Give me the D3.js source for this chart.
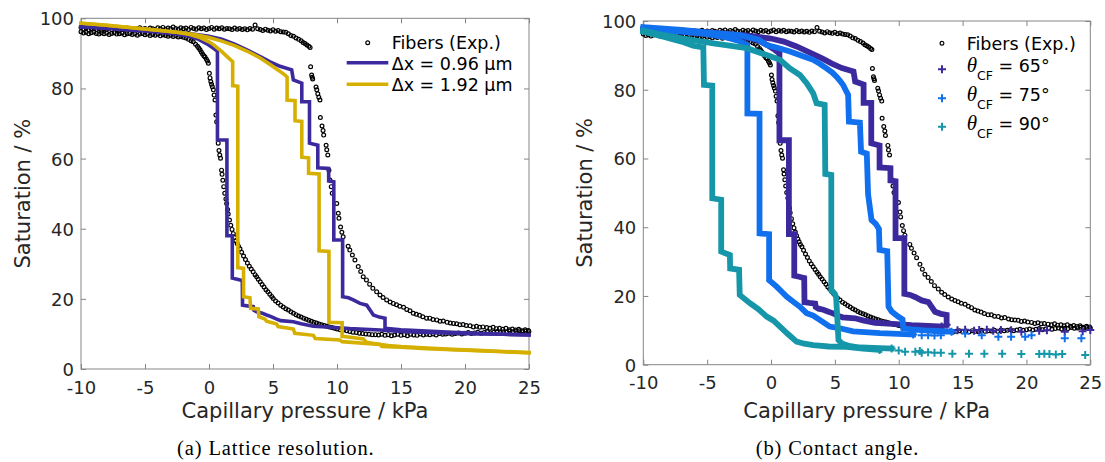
<!DOCTYPE html>
<html><head><meta charset="utf-8">
<script src="https://cdn.jsdelivr.net/npm/d3@7"></script>
<style>body{margin:0;background:#fff;} svg{display:block;font-family:"DejaVu Sans",sans-serif;}</style>
</head><body><svg id="c" width="1105" height="462"></svg>
<script>
const xTicks=[-10,-5,0,5,10,15,20,25];
const yTicks=[0,20,40,60,80,100];
const xLabel="Capillary pressure / kPa";
const yLabel="Saturation / %";
const captions=["(a) Lattice resolution.","(b) Contact angle."];
const legendA=["Fibers (Exp.)","\u0394x = 0.96 \u00b5m","\u0394x = 1.92 \u00b5m"];
const legendB=["Fibers (Exp.)","65\u00b0","75\u00b0","90\u00b0"];

// Experimental data (pressure kPa, saturation %)
const expDrain=[[-10,97.4],[-9.8,96.9],[-9.6,97.2],[-9.4,96.7],[-9.2,97.0],[-9,97.3],[-8.8,96.8],[-8.6,97.1],[-8.4,96.6],[-8.2,97.0],
[-8,96.9],[-7.8,97.2],[-7.6,96.7],[-7.4,97.1],[-7.2,96.8],[-7,96.5],[-6.8,97.0],[-6.6,96.8],[-6.4,97.2],[-6.2,96.9],
[-6,97.1],[-5.8,96.7],[-5.6,97.0],[-5.4,97.3],[-5.2,96.9],[-5,97.1],[-4.8,96.8],[-4.6,97.2],[-4.4,97.0],[-4.2,96.7],
[-4,97.3],[-3.8,97.0],[-3.6,97.4],[-3.4,96.9],[-3.2,97.2],[-3,97.0],[-2.8,97.5],[-2.6,97.1],[-2.4,96.9],[-2.2,97.3],
[-2,97.0],[-1.8,97.2],[-1.6,96.8],[-1.4,97.4],[-1.2,97.1],[-1,96.9],[-0.8,97.3],[-0.6,97.0],[-0.4,97.2],[-0.2,96.8],
[0,97.1],[0.2,97.4],[0.4,96.9],[0.6,97.2],[0.8,97.0],[1,97.3],[1.2,96.9],[1.4,97.1],[1.6,97.0],[1.8,96.8],
[2,97.2],[2.2,96.9],[2.4,97.1],[2.6,96.8],[2.8,97.0],[3,96.7],[3.2,97.1],[3.4,96.9],[3.6,98.1],[3.8,97.0],
[4,96.8],[4.2,96.5],[4.4,96.9],[4.6,96.6],[4.8,96.4],[5,96.7],[5.2,96.3],[5.4,96.5],[5.6,96.2],[5.8,96.1],
[6,96.0],[6.2,95.6],[6.4,95.1],[6.6,94.9],[6.8,94.4],[7,94.0],[7.2,93.6],[7.35,93.1],[7.5,92.8],[7.65,92.4],[7.8,92.0],[7.9,91.7],
[7.94,86.2],[8.02,83.8],[8.06,83.2],[8.1,82.7],[8.36,80.4],[8.42,79.6],[8.5,78.5],[8.58,77.5],[8.67,76.7],[8.7,71.7],[8.83,69.3],[8.91,68.0],[8.96,66.7],
[9.15,63.8],[9.2,62.5],[9.28,61.0],[9.37,56.7],[9.45,53.9],[9.55,52.0],[9.63,50.1],[9.98,47.2],[10.1,44.4],[10.15,43.0],[10.28,40.5],[10.38,39.0],[10.48,37.7],
[10.87,35.0],[11.0,33.9],[11.2,32.5],[11.4,31.1],[11.66,29.2],[11.85,27.8],[12.05,26.3],[12.3,25.4],[12.55,24.2],[12.8,23.0],[13.1,22.0],[13.36,21.1],[13.6,20.4],[13.88,19.7],
[14.15,19.1],[14.4,18.7],[14.65,18.3],[14.9,17.9],[15.2,17.6],[15.45,17.0],[15.7,16.6],[15.96,15.9],[16.2,15.6],[16.45,15.3],[16.7,14.9],[17.0,14.5],[17.25,14.5],[17.5,14.1],
[17.8,14.0],[18.05,13.6],[18.3,13.7],[18.6,13.3],[18.85,13.1],[19.1,13.0],[19.35,12.9],[19.6,12.6],[19.85,12.7],[20.1,12.4],[20.4,12.3],[20.65,12.0],[20.9,12.2],[21.15,11.9],
[21.4,12.0],[21.7,11.8],[21.95,11.6],[22.2,11.9],[22.45,11.5],[22.7,11.6],[22.95,11.3],[23.2,11.6],[23.45,11.2],[23.7,11.4],[23.95,11.1],[24.2,11.3],[24.45,10.9],[24.7,11.2],[24.95,11.0]];

const expImb=[[-10,96.2],[-9.8,95.8],[-9.6,96.0],[-9.4,95.6],[-9.2,95.9],[-9,96.1],[-8.8,95.7],[-8.6,95.5],[-8.4,95.9],[-8.2,95.6],
[-8,95.8],[-7.8,95.4],[-7.6,95.7],[-7.4,95.9],[-7.2,95.5],[-7,95.6],[-6.8,95.8],[-6.6,95.3],[-6.4,95.6],[-6.2,95.7],
[-6,95.4],[-5.8,95.6],[-5.6,95.2],[-5.4,95.5],[-5.2,95.7],[-5,95.3],[-4.8,95.5],[-4.6,95.1],[-4.4,95.4],[-4.2,95.2],
[-4,95.5],[-3.8,95.0],[-3.6,95.3],[-3.4,95.1],[-3.2,94.9],[-3,95.2],[-2.8,94.8],[-2.6,95.0],[-2.4,94.7],[-2.2,94.8],
[-2.0,94.6],[-1.8,94.4],[-1.6,94.0],[-1.4,93.6],[-1.23,93.3],[-1.05,92.6],[-0.9,92.0],[-0.8,91.5],[-0.7,91.0],[-0.6,90.4],[-0.5,89.8],[-0.4,89.3],[-0.31,89.0],[-0.2,88.3],[-0.12,87.8],[-0.05,87.2],
[0.03,84.3],[0.08,83.0],[0.14,82.0],[0.2,81.2],[0.26,80.5],[0.34,79.6],[0.4,78.1],[0.47,76.7],[0.54,72.4],[0.6,70.5],[0.72,64.4],[0.78,62.3],[0.84,61.0],[0.9,60.1],[0.98,56.7],[1.02,55.5],[1.08,53.8],[1.15,52.0],[1.23,50.1],[1.32,48.5],[1.38,47.2],[1.45,45.5],[1.5,44.2],[1.6,42.5],[1.7,41.0],[1.8,39.8],[1.9,38.6],[2.0,37.5],[2.1,36.6],[2.2,35.8],[2.3,35.0],[2.42,34.3],[2.55,33.3],[2.7,32.2],[2.85,31.2],[3.0,30.2],[3.15,29.3],[3.3,28.5],[3.45,27.7],[3.6,26.9],[3.72,26.3],[3.85,25.6],[4.0,24.9],[4.15,24.1],[4.3,23.4],[4.45,22.6],[4.6,22.0],[4.75,21.3],[4.9,20.7],[5.02,20.1],[5.2,19.4],[5.4,18.8],[5.6,18.2],[5.8,17.7],[6.0,17.2],[6.2,16.8],[6.4,16.3],[6.6,15.9],[6.8,15.5],[7.0,15.1],[7.2,14.8],[7.4,14.5],[7.6,14.2],[7.8,13.9],[8.0,13.6],[8.2,13.3],[8.4,13.1],[8.6,12.8],[8.8,12.6],[9.0,12.4],[9.2,12.2],[9.4,12.0],[9.6,11.8],[9.8,11.6],[10.0,11.4],[10.25,11.2],[10.5,11.1],[10.76,10.9],[11.0,10.7],[11.25,10.5],[11.5,10.4],[11.75,10.2],[12.0,10.1],[12.25,10.0],[12.5,9.9],[12.75,9.8],[13.0,9.8],[13.25,9.7],[13.5,9.9],[13.75,9.6],[14.0,9.8],[14.25,9.5],[14.5,9.7],[14.75,9.9],[15.0,9.6],[15.25,9.8],[15.5,9.5],[15.75,9.9],[16.0,9.7],[16.25,9.6],[16.5,10.0],[16.75,9.7],[17.0,9.9],[17.25,9.8],[17.5,10.0],[17.75,9.7],[18.0,10.1],[18.25,9.9],[18.5,10.0],[18.75,10.2],[19.0,9.9],[19.25,10.1],[19.5,10.3],[19.75,10.0],[20.0,10.2],[20.25,10.4],[20.5,10.1],[20.75,10.3],[21.0,10.5],[21.25,10.2],[21.5,10.4],[21.75,10.6],[22.0,10.3],[22.25,10.5],[22.5,10.7],[22.75,10.4],[23.0,10.6],[23.25,10.5],[23.5,10.8],[23.75,10.6],[24.0,10.7],[24.25,10.9],[24.5,10.6],[24.75,10.8],[25.0,10.7]];

// Simulation, dx = 0.96 um (also theta_CF = 65 deg)
const dx096Drain=[[-10,97.6],[-8,97.4],[-6,97.0],[-4,96.4],[-2,95.8],[-1,95.4],[0,94.9],[1,94.0],[2,92.6],[3,90.9],[4,89.1],[4.77,87.6],[5.55,86.3],[6.46,85.3],[6.59,82.4],[7.25,81.5],[7.25,76.2],[7.85,76.2],[7.85,64.4],[8.5,63.8],[8.5,57.4],[9.35,57.2],[9.35,53.6],[9.75,53.4],[9.75,36.8],[10.44,36.8],[10.44,20.6],[10.9,20.3],[11.27,19.7],[11.8,18.7],[12.32,18.2],[12.58,16.8],[12.84,15.4],[13.3,14.8],[13.75,14.5],[13.75,11.6],[15,11.2],[17,10.8],[19,10.5],[21,10.2],[23,9.9],[25,9.7]];
const dx096Imb=[[-10,97.6],[-8,97.1],[-6,96.6],[-4,96.1],[-2.5,95.5],[-1.5,94.9],[-0.8,94.0],[-0.2,92.8],[0.3,91.6],[0.66,90.6],[0.66,65.3],[1.4,65.3],[1.4,38.0],[1.82,38.0],[1.82,25.9],[2.2,25.6],[2.6,25.2],[2.62,18.2],[3.0,18.0],[3.46,17.8],[3.5,16.8],[3.72,16.3],[4.1,16.0],[4.5,15.4],[4.8,15.0],[5.29,14.2],[5.6,13.8],[6.59,13.5],[7.2,12.9],[8.15,12.2],[9.5,11.9],[11,11.5],[13.36,11.1],[15,10.7],[17,10.4],[19,10.2],[21,10.0],[23,9.9],[25,9.7]];
// Simulation, dx = 1.92 um
const dx192Drain=[[-10,98.6],[-8,98.0],[-6,97.3],[-4,96.6],[-2,95.8],[-1,95.3],[0,94.5],[1,93.5],[2,92.2],[3,90.6],[4,88.7],[4.77,86.8],[5.5,85.0],[5.94,83.8],[6.1,83.2],[6.1,76.7],[6.72,76.5],[6.72,70.8],[7.25,70.6],[7.25,60.4],[7.78,60.2],[7.78,55.8],[8.6,55.6],[8.6,33.7],[9.37,33.5],[9.37,13.3],[10.4,13.2],[10.4,9.3],[11.2,9.0],[12.06,8.6],[12.3,7.6],[13,7.2],[14,6.7],[15,6.4],[17,6.0],[19,5.6],[21,5.3],[23,5.0],[25,4.7]];
const dx192Imb=[[-10,98.6],[-8,98.0],[-6,97.3],[-4,96.6],[-2.5,96.0],[-1.5,95.4],[-0.7,94.5],[0,93.3],[0.34,92.5],[1.0,90.5],[1.5,88.8],[1.85,87.6],[1.85,80.8],[2.25,80.6],[2.25,28.9],[2.7,28.7],[2.7,20.6],[3.2,20.3],[3.25,17.3],[3.85,17.1],[3.9,14.9],[4.38,14.2],[4.5,13.6],[5.29,12.8],[5.4,12.1],[6.59,11.4],[6.7,10.2],[8.15,9.6],[8.3,8.7],[10.23,8.3],[10.4,7.8],[13.36,7.0],[13.5,6.4],[15,6.2],[17,5.8],[19,5.5],[21,5.2],[23,4.9],[25,4.6]];

// Contact angle series (dense part drawn as band, sparse tail as markers)
const theta65Drain=dx096Drain.filter(d=>d[0]<=14.2);
const theta65Imb=dx096Imb.filter(d=>d[0]<=14.2);
const theta65Tail=[[14.6,10.0],[15.2,10.2],[15.9,9.9],[16.3,10.1],[16.9,10.2],[17.4,9.9],[18.0,10.1],[18.8,10.0],[19.6,9.6],[21.0,9.9],[21.6,10.0],[23.0,9.6],[24.4,9.7],[25.0,10.1]];
const theta75Drain=[[-10,98.2],[-7,97.4],[-5,96.7],[-2.43,95.9],[-1,94.6],[-0.34,93.0],[0.5,92.2],[1.48,91.1],[2.4,89.9],[3.3,88.7],[3.8,87.6],[4.35,86.2],[4.8,85.0],[5.13,83.8],[5.4,82.6],[5.65,81.4],[5.9,79.5],[6.04,78.5],[6.1,70.7],[6.96,70.4],[7.05,62.0],[7.5,61.4],[7.6,49.6],[7.87,42.1],[8.2,41.0],[8.45,39.5],[8.5,33.4],[9.1,33.0],[9.2,16.9],[9.44,15.5],[9.95,14.0],[10.3,13.2],[10.35,10.6],[11,10.3],[12,10.0],[13,9.8],[14.13,9.6]];
const theta75Imb=[[-10,97.6],[-7,96.9],[-5,96.2],[-3.5,95.2],[-2.5,94.2],[-1.85,93.0],[-1.85,73.1],[-0.9,73.0],[-0.9,38.2],[-0.15,38.0],[-0.15,24.6],[0.44,22.7],[0.9,21.0],[1.22,19.8],[1.74,18.3],[2.26,16.9],[2.79,15.0],[3.3,14.3],[4.08,12.4],[4.6,11.1],[5.39,10.6],[6.43,9.7],[8.52,9.2],[11.13,8.8]];
const theta75Tail=[[11.8,8.6],[12.3,8.6],[12.8,8.5],[13.3,8.6],[15.2,9.1],[16.5,8.6],[17.8,8.1],[18.8,8.1],[19.9,8.1],[20.4,8.6],[23.0,7.7],[24.3,7.7]];
const theta90Drain=[[-10,97.2],[-8.5,96.0],[-7.1,95.0],[-4.5,93.5],[-1.9,92.1],[-0.34,90.1],[0.7,88.7],[1.48,86.2],[2.26,84.3],[2.79,81.9],[3.3,79.0],[3.57,76.1],[4.2,75.6],[4.25,55.5],[4.72,55.2],[4.72,21.7],[5.0,20.6],[5.1,19.5],[5.2,13.0],[5.28,7.2],[5.55,6.2],[6.2,5.4],[7.0,5.0],[8.5,4.8],[9.44,4.7]];
const theta90Imb=[[-10,96.9],[-8.5,95.5],[-7,94.0],[-6.1,92.8],[-5.3,92.3],[-5.25,81.4],[-4.6,81.2],[-4.6,48.4],[-3.9,48.0],[-3.9,32.9],[-3.22,31.9],[-3.2,28.0],[-2.5,27.6],[-2.45,20.3],[-1.65,17.9],[-1.0,16.2],[-0.34,14.0],[0.2,12.8],[0.7,11.1],[1.3,9.0],[2.0,6.7],[2.6,6.1],[3.3,5.7],[4.5,5.3],[5.9,5.2],[7.2,4.7],[8.5,4.3]];
const theta90Tail=[[10.0,4.1],[10.5,3.8],[11.3,3.8],[11.65,4.0],[11.8,3.5],[12.3,3.6],[12.8,3.5],[13.3,3.5],[14.2,3.2],[15.5,3.2],[16.7,3.2],[18.1,3.2],[19.6,3.1],[21.0,3.1],[21.4,3.2],[21.8,3.1],[22.3,3.0],[22.8,3.1],[24.6,2.8]];

const C={blue:"#3b2a9d",gold:"#d5b000",c65:"#3b2a9d",c75:"#1170ee",c90:"#1597a9",axis:"#858585",text:"#262626"};

const svg=d3.select("#c");
const panels=[{x0:81,x1:529,y0:369,y1:18.3},{x0:643.3,x1:1090.3,y0:364.7,y1:21}];
const plus="M-4,0H4M0,-4V4";

function axes(p){
  const x=d3.scaleLinear().domain(d3.extent(xTicks)).range([p.x0,p.x1]);
  const y=d3.scaleLinear().domain(d3.extent(yTicks)).range([p.y0,p.y1]);
  const fmt=d=>String(d);
  const gb=svg.append("g").attr("transform",`translate(0,${p.y0})`).call(d3.axisBottom(x).tickValues(xTicks).tickFormat(fmt).tickSizeInner(-5).tickSizeOuter(0).tickPadding(12));
  const gt=svg.append("g").attr("transform",`translate(0,${p.y1})`).call(d3.axisTop(x).tickValues(xTicks).tickFormat("").tickSizeInner(-5).tickSizeOuter(0));
  const gl=svg.append("g").attr("transform",`translate(${p.x0},0)`).call(d3.axisLeft(y).tickValues(yTicks).tickFormat(fmt).tickSizeInner(-5).tickSizeOuter(0).tickPadding(7));
  const gr=svg.append("g").attr("transform",`translate(${p.x1},0)`).call(d3.axisRight(y).tickValues(yTicks).tickFormat("").tickSizeInner(-5).tickSizeOuter(0));
  [gb,gt,gl,gr].forEach(g=>{
    g.select(".domain").remove();
    g.selectAll("line").attr("stroke",C.axis);
    g.selectAll("text").attr("fill",C.text).attr("font-size",18).attr("font-family","DejaVu Sans");
  });
  gl.selectAll("text").attr("dy","0.36em");
  svg.append("rect").attr("x",p.x0).attr("y",p.y1).attr("width",p.x1-p.x0).attr("height",p.y0-p.y1)
    .attr("fill","none").attr("stroke",C.axis).attr("stroke-width",1);
  svg.append("text").attr("x",(p.x0+p.x1)/2).attr("y",417.5).attr("text-anchor","middle")
    .attr("font-size",21).attr("fill",C.text).text(xLabel);
  const cy=(p.y0+p.y1)/2, lx=p.x0-51;
  svg.append("text").attr("transform",`translate(${lx},${cy}) rotate(-90)`).attr("text-anchor","middle")
    .attr("font-size",21).attr("fill",C.text).text(yLabel);
  return {x,y};
}

function expPoints(s,data){
  svg.append("g").selectAll("circle").data(data).join("circle")
    .attr("cx",d=>s.x(d[0])).attr("cy",d=>s.y(d[1])).attr("r",1.9)
    .attr("fill","none").attr("stroke","#000").attr("stroke-width",1.2);
}
function line(s,data,color,w){
  const l=d3.line().x(d=>s.x(d[0])).y(d=>s.y(d[1]));
  svg.append("path").datum(data).attr("d",l).attr("fill","none").attr("stroke",color)
    .attr("stroke-width",w).attr("stroke-linejoin","miter").attr("stroke-linecap","square");
}
function plusMarks(s,data,color){
  svg.append("g").selectAll("path").data(data).join("path")
    .attr("transform",d=>`translate(${s.x(d[0])},${s.y(d[1])})`).attr("d",plus)
    .attr("stroke",color).attr("stroke-width",2).attr("fill","none");
}

// Panel A
const sA=axes(panels[0]);
expPoints(sA,expDrain); expPoints(sA,expImb);
line(sA,dx096Imb,C.blue,3.6); line(sA,dx096Drain,C.blue,3.6);
line(sA,dx192Imb,C.gold,3.6); line(sA,dx192Drain,C.gold,3.6);

// Panel B
const sB=axes(panels[1]);
expPoints(sB,expDrain); expPoints(sB,expImb);
[[theta65Imb,theta65Drain,theta65Tail,C.c65],[theta75Imb,theta75Drain,theta75Tail,C.c75],[theta90Imb,theta90Drain,theta90Tail,C.c90]]
 .forEach(([a,b,t,c])=>{line(sB,a,c,5.8);line(sB,b,c,5.8);plusMarks(sB,a.slice(-1).concat(b.slice(-1)),c);plusMarks(sB,t,c);});

// Legend A
const LA=svg.append("g").attr("font-size",17.5).attr("fill","#000");
LA.append("circle").attr("cx",367.7).attr("cy",42.7).attr("r",1.9).attr("fill","none").attr("stroke","#000").attr("stroke-width",1.2);
[[C.blue,62.7],[C.gold,84.3]].forEach(([c,yy])=>LA.append("line").attr("x1",346.7).attr("x2",388.3).attr("y1",yy).attr("y2",yy).attr("stroke",c).attr("stroke-width",3.6));
[49.3,70,90.7].forEach((yy,i)=>LA.append("text").attr("x",391.7).attr("y",yy).text(legendA[i]));

// Legend B
const LB=svg.append("g").attr("font-size",17.5).attr("fill","#000");
LB.append("circle").attr("cx",942).attr("cy",43.3).attr("r",1.9).attr("fill","none").attr("stroke","#000").attr("stroke-width",1.2);
LB.append("text").attr("x",966.7).attr("y",50).text(legendB[0]);
[[C.c65,69.3,72],[C.c75,98.3,101],[C.c90,126.7,129.5]].forEach(([c,my,by],i)=>{
  LB.append("path").attr("transform",`translate(942,${my})`).attr("d",plus).attr("stroke",c).attr("stroke-width",2);
  const t=LB.append("text").attr("x",966.7).attr("y",by);
  t.append("tspan").attr("font-family","Liberation Serif").attr("font-style","italic").attr("font-size",21).text("\u03b8");
  t.append("tspan").attr("font-size",12.5).attr("dy",8).text("CF");
  t.append("tspan").attr("dy",-8).text(" = "+legendB[i+1]);
});

// Captions
[[275.8,captions[0]],[837.5,captions[1]]].forEach(([cx,s])=>svg.append("text").attr("x",cx).attr("y",455)
  .attr("text-anchor","middle").attr("font-family","Liberation Serif").attr("font-size",20.5).attr("letter-spacing",0.9).attr("fill","#000").text(s));
</script></body></html>
